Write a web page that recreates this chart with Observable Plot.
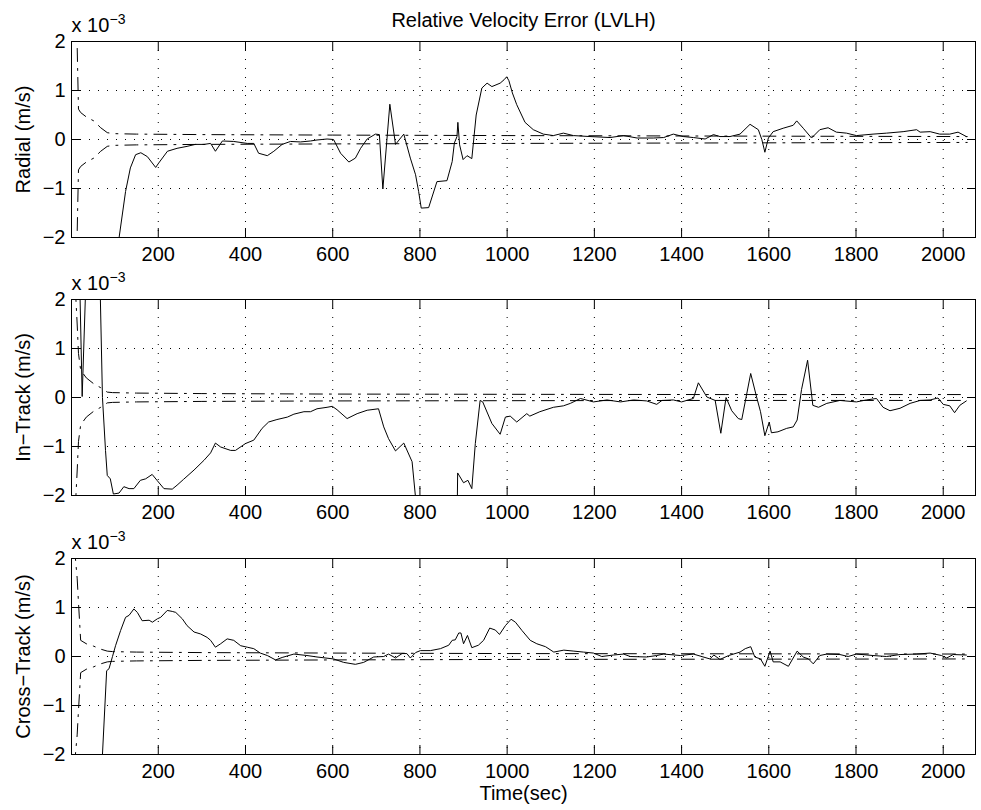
<!DOCTYPE html>
<html>
<head>
<meta charset="utf-8">
<script src="https://cdn.jsdelivr.net/npm/d3@7"></script>
<script src="https://cdn.jsdelivr.net/npm/@observablehq/plot@0.6"></script>
<style>
  html, body { margin: 0; padding: 0; background: #fff; }
  #chart { width: 981px; height: 810px; overflow: hidden; background: #fff; }
  #chart svg { display: block; }
</style>
</head>
<body>
<div id="chart"></div>
<script>
// ---------- text ----------
const title = "Relative Velocity Error (LVLH)";
const xLabel = "Time(sec)";
const panelLabels = ["Radial (m/s)", "In\u2212Track (m/s)", "Cross\u2212Track (m/s)"];
const scaleBase = "x 10";
const scaleExp = "\u22123";

// ---------- axes ----------
const xTicks = [200, 400, 600, 800, 1000, 1200, 1400, 1600, 1800, 2000];
const yTicks = [-2, -1, 0, 1, 2];
const xDomain = [1, 2074];
const yDomain = [-2, 2];

// ---------- data: [time (s), error (x 1e-3 m/s)] ----------
const radial = [[10,-8],[60,-5],[110,-2.01],[125,-1.06],[136,-0.58],[148,-0.31],[160,-0.27],[175,-0.35],[194,-0.57],[201,-0.48],[221,-0.24],[243,-0.18],[266,-0.14],[285,-0.10],[305,-0.10],[320,-0.08],[331,-0.24],[347,-0.03],[373,-0.04],[404,-0.08],[419,-0.08],[430,-0.28],[450,-0.33],[465,-0.24],[484,-0.10],[503,-0.04],[526,-0.05],[549,-0.03],[564,-0.01],[587,0.01],[602,0.0],[618,-0.28],[637,-0.46],[652,-0.38],[664,-0.18],[679,0.01],[698,0.11],[707,0.10],[715,-1.01],[731,0.72],[744,-0.10],[763,0.11],[778,-0.38],[790,-0.72],[797,-1.06],[803,-1.40],[820,-1.39],[839,-0.86],[862,-0.84],[874,-0.45],[879,-0.07],[885,0.06],[887,0.35],[891,-0.11],[899,-0.41],[908,-0.33],[919,-0.39],[929,0.50],[942,1.05],[954,1.15],[965,1.08],[984,1.15],[993,1.22],[999,1.28],[1004,1.20],[1012,0.95],[1022,0.71],[1041,0.35],[1060,0.20],[1083,0.11],[1106,0.08],[1129,0.13],[1152,0.08],[1190,0.06],[1236,0.04],[1267,0.08],[1298,0.03],[1335,0.03],[1359,0.04],[1381,0.11],[1404,0.06],[1427,0.04],[1454,0.01],[1473,0.10],[1488,0.06],[1511,0.06],[1534,0.11],[1557,0.31],[1576,0.20],[1584,0.0],[1591,-0.26],[1599,0.03],[1610,0.16],[1633,0.23],[1656,0.29],[1664,0.38],[1679,0.23],[1698,0.03],[1717,0.20],[1736,0.24],[1755,0.15],[1778,0.13],[1801,0.08],[1839,0.11],[1870,0.13],[1908,0.16],[1939,0.20],[1947,0.15],[1970,0.16],[1992,0.11],[2015,0.11],[2034,0.15],[2053,0.06]];

const inTrack = [[10,4],[20.5,2.1],[25.5,0.02],[33,2.1],[45,5],[67,2.1],[72,0],[79,-1.08],[83,-1.59],[90,-1.66],[97,-1.97],[110,-1.95],[121,-1.82],[133,-1.86],[144,-1.86],[159,-1.69],[171,-1.66],[186,-1.57],[197,-1.69],[213,-1.86],[232,-1.87],[243,-1.79],[258,-1.67],[282,-1.48],[305,-1.28],[320,-1.13],[331,-0.93],[343,-1.01],[366,-1.08],[377,-1.08],[400,-0.94],[419,-0.87],[438,-0.63],[453,-0.50],[472,-0.45],[496,-0.40],[511,-0.34],[534,-0.29],[549,-0.29],[564,-0.23],[587,-0.20],[599,-0.18],[610,-0.25],[633,-0.43],[656,-0.33],[679,-0.26],[705,-0.23],[717,-0.60],[728,-0.84],[744,-1.09],[763,-0.93],[782,-1.31],[789.5,-2.0],[800,-3.2],[840,-4],[884,-3.5],[886.5,-1.54],[900,-1.74],[910,-1.69],[919,-1.86],[927,-0.94],[938,-0.06],[944,-0.09],[965,-0.53],[984,-0.75],[996,-0.40],[1007,-0.38],[1022,-0.50],[1045,-0.33],[1052,-0.38],[1075,-0.29],[1106,-0.20],[1129,-0.17],[1145,-0.12],[1168,-0.02],[1198,-0.09],[1229,-0.05],[1260,-0.09],[1290,-0.05],[1320,-0.07],[1343,-0.14],[1355,-0.06],[1381,-0.05],[1400,-0.09],[1427,-0.02],[1438.5,0.30],[1458,0.01],[1477,-0.06],[1490,-0.73],[1502,0.0],[1515,-0.27],[1530,-0.43],[1538,-0.45],[1558.5,0.49],[1572,0.01],[1581,-0.29],[1591,-0.78],[1601,-0.50],[1606,-0.72],[1621,-0.70],[1641,-0.63],[1656,-0.60],[1665,-0.46],[1675,0.16],[1689,0.76],[1701,-0.16],[1714,-0.20],[1733,-0.12],[1763,-0.06],[1801,-0.09],[1824,-0.05],[1847,-0.02],[1862,-0.20],[1878,-0.27],[1901,-0.22],[1924,-0.12],[1947,-0.06],[1970,-0.05],[1988,-0.01],[2000,-0.14],[2015,-0.17],[2026,-0.31],[2038,-0.16],[2053,-0.07]];

const crossTrack = [[10,-6],[40,-4],[72,-2.0],[81.6,-0.29],[87,-0.25],[95,0.0],[102,0.22],[113.6,0.53],[125,0.80],[133,0.84],[144,0.97],[152,0.90],[163,0.73],[179,0.74],[186.5,0.70],[198,0.77],[205.6,0.80],[220.6,0.94],[232,0.92],[240,0.90],[255,0.77],[266,0.63],[282,0.50],[297,0.46],[312,0.39],[320,0.33],[331,0.19],[343,0.26],[358,0.36],[373,0.33],[389,0.22],[404,0.19],[419,0.16],[434,0.07],[450,0.02],[469,-0.07],[484,-0.02],[511,0.05],[541,0.02],[564,-0.01],[602,-0.05],[625,-0.12],[652,-0.16],[671,-0.12],[694,-0.01],[717,0.0],[728,0.05],[744,-0.03],[759,0.06],[770,0.06],[778,-0.03],[790,0.08],[801,0.12],[824,0.12],[847,0.16],[866,0.23],[874,0.33],[881,0.34],[889,0.48],[894,0.48],[900,0.26],[909,0.43],[919,0.18],[934,0.23],[946,0.33],[960,0.58],[973,0.54],[982.5,0.45],[996,0.63],[1009,0.76],[1019,0.70],[1034,0.53],[1053,0.33],[1068,0.26],[1088,0.20],[1107,0.09],[1130,0.13],[1153,0.11],[1175,0.09],[1198,0.07],[1217,0.0],[1244,0.03],[1267,0.05],[1282,0.0],[1320,-0.01],[1343,0.02],[1359,0.05],[1397,0.02],[1427,0.05],[1465,-0.05],[1474,0.03],[1488,-0.06],[1508,0.02],[1534,0.09],[1546,0.16],[1558.5,0.20],[1568,-0.01],[1581,-0.05],[1591,-0.20],[1603,0.11],[1610,-0.11],[1626,-0.11],[1645,-0.20],[1665,0.11],[1679,-0.01],[1691,-0.05],[1702,-0.15],[1717,0.02],[1733,0.05],[1763,0.04],[1782,0.0],[1801,0.05],[1839,0.02],[1870,0.0],[1901,0.04],[1939,0.05],[1970,0.07],[1996,0.02],[2008,-0.03],[2023,0.04],[2053,0.03]];

// covariance bounds (drawn as +bound and -bound)
const boundTimes      = [5, 10, 14, 17, 22, 35, 52, 68, 83, 95, 150, 300, 600, 1000, 1500, 2055];
const radialBound     = [6, 3.0, 1.9, 0.62, 0.55, 0.46, 0.38, 0.24, 0.14, 0.12, 0.11, 0.10, 0.09, 0.08, 0.07, 0.06];
const inTrackBound    = [4, 2.2, 1.5, 0.9, 0.56, 0.40, 0.28, 0.20, 0.11, 0.10, 0.09, 0.08, 0.07, 0.065, 0.06, 0.06];
const crossTrackBound = [4, 2.0, 1.6, 1.1, 0.33, 0.26, 0.21, 0.15, 0.11, 0.10, 0.09, 0.08, 0.07, 0.06, 0.055, 0.05];

// ---------- drawing ----------
const FONT = "'Liberation Sans', Arial, Helvetica, sans-serif";
const fmtY = d => (d < 0 ? "\u2212" + Math.abs(d) : String(d));

function panel({series, bound, label, height, marginTop, marginBottom, first, last}) {
  const line = series.map(([t, v]) => ({t, v}));
  const upper = boundTimes.map((t, j) => ({t, v: bound[j]}));
  const lower = boundTimes.map((t, j) => ({t, v: -bound[j]}));
  const marks = [
    Plot.gridX(xTicks, {stroke: "#000", strokeOpacity: 1, strokeDasharray: "1,8"}),
    Plot.gridY(yTicks.filter(d => d > yDomain[0] && d < yDomain[1]), {stroke: "#000", strokeOpacity: 1, strokeDasharray: "1,8"}),
    Plot.line(upper, {x: "t", y: "v", stroke: "#000", strokeWidth: 1, strokeDasharray: "13,7,2,7", clip: true}),
    Plot.line(lower, {x: "t", y: "v", stroke: "#000", strokeWidth: 1, strokeDasharray: "13,7,2,7", clip: true}),
    Plot.line(line, {x: "t", y: "v", stroke: "#000", strokeWidth: 1, clip: true}),
    Plot.axisX(xTicks, {anchor: "bottom", tickSize: 0, tickPadding: 9, fontSize: 20, tickFormat: d => String(d), label: null}),
    Plot.axisX(xTicks, {anchor: "bottom", tickSize: 9, dy: -9, text: null, label: null}),
    Plot.axisX(xTicks, {anchor: "top", tickSize: 9, dy: 9, text: null, label: null}),
    Plot.axisY(yTicks, {anchor: "left", tickSize: 0, tickPadding: 6, fontSize: 20, tickFormat: fmtY, label: null}),
    Plot.axisY(yTicks, {anchor: "left", tickSize: 9, dx: 9, text: null, label: null}),
    Plot.axisY(yTicks, {anchor: "right", tickSize: 9, dx: -9, text: null, label: null}),
    Plot.frame({stroke: "#000", strokeWidth: 1}),
    Plot.text([label], {text: d => d, frameAnchor: "left", dx: -48, rotate: -90, textAnchor: "middle", lineAnchor: "middle", fontSize: 20, fill: "#000"}),
    Plot.text([scaleBase], {text: d => d, frameAnchor: "top-left", dy: -16, textAnchor: "start", lineAnchor: "middle", fontSize: 20, fill: "#000"}),
    Plot.text([scaleExp], {text: d => d, frameAnchor: "top-left", dx: 38, dy: -22, textAnchor: "start", lineAnchor: "middle", fontSize: 14, fill: "#000"})
  ];
  if (first) marks.push(Plot.text([title], {text: d => d, frameAnchor: "top", dy: -21, textAnchor: "middle", lineAnchor: "middle", fontSize: 20, fill: "#000"}));
  if (last) marks.push(Plot.text([xLabel], {text: d => d, frameAnchor: "bottom", dy: 39, textAnchor: "middle", lineAnchor: "middle", fontSize: 20, fill: "#000"}));
  return Plot.plot({
    width: 981,
    height,
    marginLeft: 71,
    marginRight: 6,
    marginTop,
    marginBottom,
    style: {fontFamily: FONT, fontSize: "20px", background: "#fff", color: "#000"},
    x: {domain: xDomain, axis: null},
    y: {domain: yDomain, axis: null},
    marks
  });
}

const chart = document.getElementById("chart");
chart.append(panel({series: radial, bound: radialBound, label: panelLabels[0], height: 268, marginTop: 41, marginBottom: 31, first: true}));
chart.append(panel({series: inTrack, bound: inTrackBound, label: panelLabels[1], height: 258, marginTop: 31, marginBottom: 31}));
chart.append(panel({series: crossTrack, bound: crossTrackBound, label: panelLabels[2], height: 284, marginTop: 32, marginBottom: 56, last: true}));
</script>
</body>
</html>
